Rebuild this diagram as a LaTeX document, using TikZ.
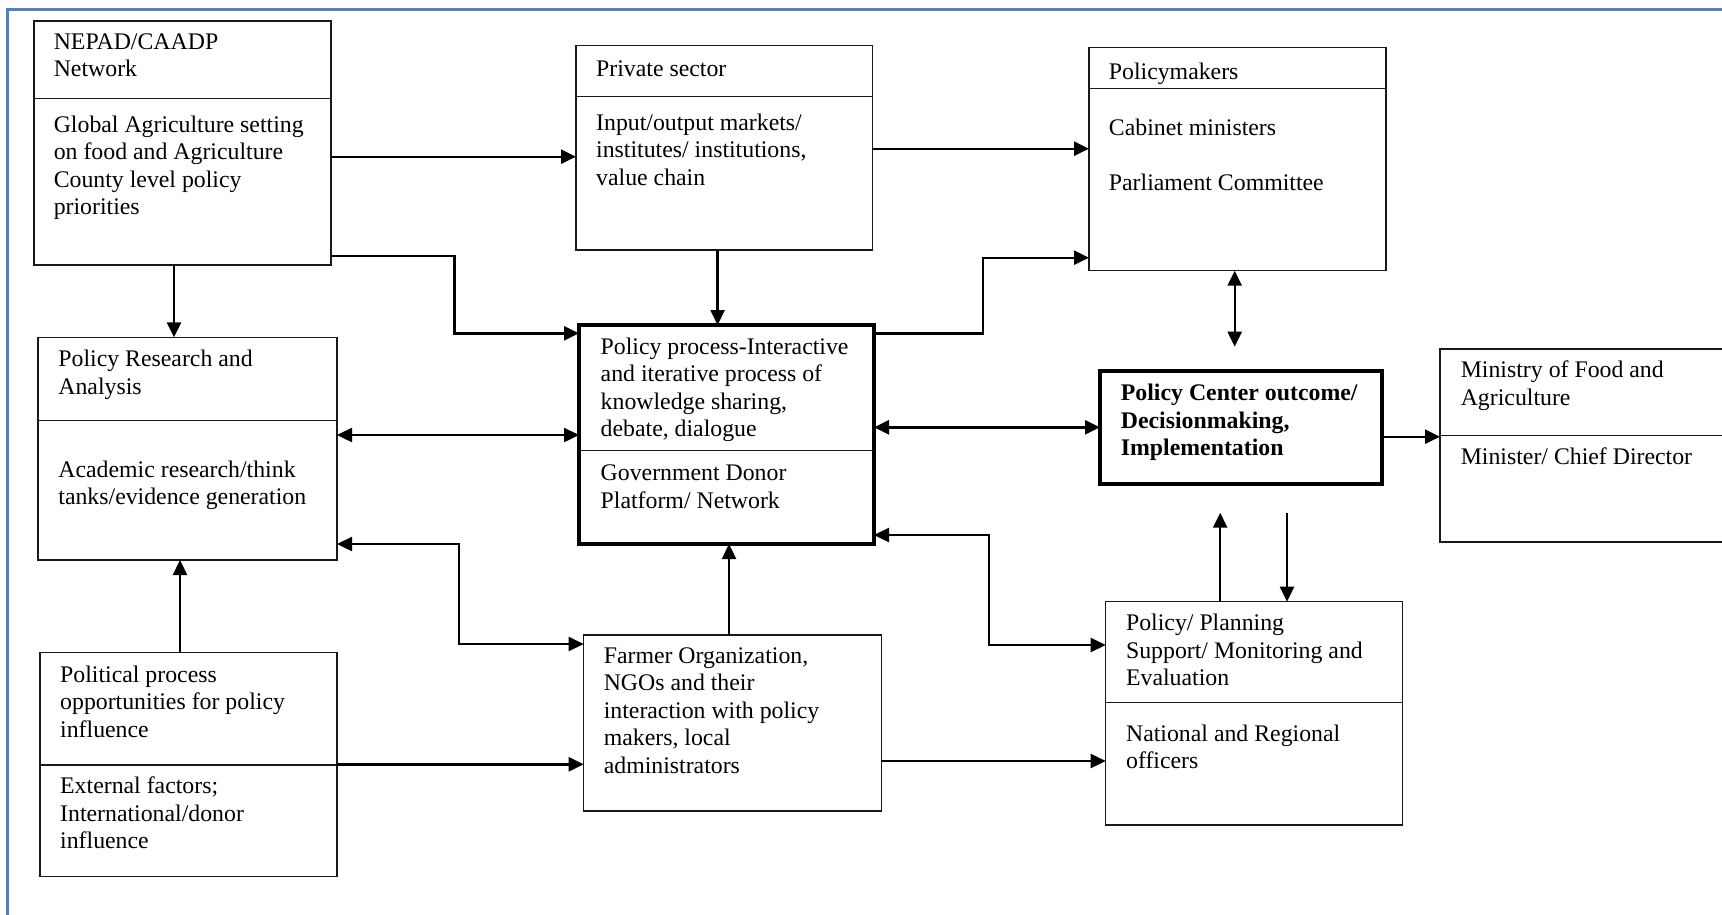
\documentclass[tikz,border=0pt]{standalone}
\usepackage{fontspec}
\setmainfont{Liberation Serif}
\usetikzlibrary{arrows.meta}
\definecolor{framecol}{RGB}{79,129,189}
\newcommand{\fsz}{\fontsize{23.8}{27.4}\selectfont}
\begin{document}
\begin{tikzpicture}[x=1pt,y=-1pt,
  box/.style={draw=black!90, line width=1.3pt, inner sep=0pt, outer sep=0pt, anchor=north west},
  thickbox/.style={draw=black, line width=4.2pt, inner sep=0pt, outer sep=0pt, anchor=north west},
  divline/.style={draw=black!90, line width=1.3pt},
  txt/.style={anchor=north west, inner sep=0pt, align=left, font=\fsz, execute at begin node=\strut},
  btxt/.style={txt, font=\fsz\bfseries},
  arr/.style={line width=2.4pt, -{Triangle[length=15pt,width=14pt]}},
  darr/.style={line width=2.4pt, {Triangle[length=15pt,width=14pt]}-{Triangle[length=15pt,width=14pt]}}
]
\useasboundingbox (0,0) rectangle (1722,914);
\clip (0,0) rectangle (1722,914);
% frame
\draw[framecol, line width=3pt] (7.5,930) -- (7.5,9.5) -- (1740,9.5);

% boxes
\node[box, minimum width=297pt, minimum height=244pt] (nepad) at (34,21) {};
\node[box, minimum width=296.6pt, minimum height=204.5pt] (priv) at (576,45.5) {};
\node[box, minimum width=297pt, minimum height=223pt] (polm) at (1089,47.7) {};
\node[box, minimum width=299pt, minimum height=222.7pt] (research) at (38,337.3) {};
\node[thickbox, minimum width=295pt, minimum height=219pt] (central) at (579,325) {};
\node[thickbox, minimum width=282pt, minimum height=113pt] (outcome) at (1100,371) {};
\node[box, minimum width=320pt, minimum height=193pt] (ministry) at (1440,349) {};
\node[box, minimum width=297pt, minimum height=224pt] (political) at (40,652.7) {};
\node[box, minimum width=297.7pt, minimum height=176pt] (farmer) at (583.7,635) {};
\node[box, minimum width=296.6pt, minimum height=223.3pt] (planning) at (1105.7,601.7) {};

% dividers
\draw[divline] (nepad.west |- 0,98.3) -- (nepad.east |- 0,98.3);
\draw[divline] (priv.west |- 0,96.3) -- (priv.east |- 0,96.3);
\draw[divline] (polm.west |- 0,88.7) -- (polm.east |- 0,88.7);
\draw[divline] (research.west |- 0,420.7) -- (research.east |- 0,420.7);
\draw[divline] (central.west |- 0,450.7) -- (central.east |- 0,450.7);
\draw[divline] (ministry.west |- 0,435.3) -- (ministry.east |- 0,435.3);
\draw[divline] (political.west |- 0,765) -- (political.east |- 0,765);
\draw[divline] (planning.west |- 0,702.7) -- (planning.east |- 0,702.7);

% texts
\node[txt] (t1a) at (53.6,33.5) {NEPAD/CAADP\\Network};
\node[txt] (t1b) at (53.6,115.8) {Global Agriculture setting\\on food and Agriculture\\County level policy\\priorities};
\node[txt] (t2a) at (596,57.5) {Private sector};
\node[txt] (t2b) at (596,113.5) {Input/output markets/\\institutes/ institutions,\\value chain};
\node[txt] (t3a) at (1108.7,60.1) {Policymakers};
\node[txt] (t3b) at (1108.7,115.8) {Cabinet ministers};
\node[txt] (t3c) at (1108.7,171.5) {Parliament Committee};
\node[txt] (t4a) at (58.2,350.1) {Policy Research and\\Analysis};
\node[txt] (t4b) at (58.2,460.8) {Academic research/think\\tanks/evidence generation};
\node[txt] (t5a) at (600.5,337.5) {Policy process-Interactive\\and iterative process of\\knowledge sharing,\\debate, dialogue};
\node[txt] (t5b) at (600.5,464.8) {Government Donor\\Platform/ Network};
\node[btxt] (t6) at (1120.7,384.1) {Policy Center outcome/\\Decisionmaking,\\Implementation};
\node[txt] (t7a) at (1460.6,360.8) {Ministry of Food and\\Agriculture};
\node[txt] (t7b) at (1460.6,444.8) {Minister/ Chief Director};
\node[txt] (t8a) at (60,665.8) {Political process\\opportunities for policy\\influence};
\node[txt] (t8b) at (60,776.8) {External factors;\\International/donor\\influence};
\node[txt] (t9) at (603.6,647.5) {Farmer Organization,\\NGOs and their\\interaction with policy\\makers, local\\administrators};
\node[txt] (t10a) at (1125.9,614.1) {Policy/ Planning\\Support/ Monitoring and\\Evaluation};
\node[txt] (t10b) at (1125.9,724.8) {National and Regional\\officers};

% helper coordinates
\coordinate (c1) at (454.5,256);
\coordinate (c2) at (983,333.3);
\coordinate (c3) at (989,535);
\coordinate (c4) at (459,544);
\coordinate (pmlow) at (1234.7,346.7);
\coordinate (oup) at (1220.2,512.7);
\coordinate (odown) at (1287,512.7);

% connectors
\draw[arr] (nepad.east |- 0,156.7) -- (priv.west |- 0,156.7);
\draw[arr] (nepad.south -| 174,0) -- (research.north -| 174,0);
\draw[arr] (nepad.east |- c1) -- (c1) |- (central.west |- 0,333.3);
\draw[arr] (priv.east |- 0,148.7) -- (polm.west |- 0,148.7);
\draw[arr] (priv.south -| 717.6,0) -- (central.north -| 717.6,0);
\draw[arr] (central.east |- c2) -- (c2) |- (polm.west |- 0,257.7);
\draw[darr] (research.east |- 0,435) -- (central.west |- 0,435);
\draw[darr] (central.east |- 0,427.3) -- (outcome.west |- 0,427.3);
\draw[darr] (polm.south -| pmlow) -- (pmlow);
\draw[arr] (outcome.east |- 0,436.7) -- (ministry.west |- 0,436.7);
\draw[arr] (planning.north -| oup) -- (oup);
\draw[arr] (odown) -- (planning.north -| odown);
\draw[darr] (central.east |- c3) -- (c3) |- (planning.west |- 0,645);
\draw[darr] (research.east |- c4) -- (c4) |- (farmer.west |- 0,644);
\draw[arr] (political.north -| 180,0) -- (research.south -| 180,0);
\draw[arr] (political.east |- 0,764.3) -- (farmer.west |- 0,764.3);
\draw[arr] (farmer.north -| 729,0) -- (central.south -| 729,0);
\draw[arr] (farmer.east |- 0,761) -- (planning.west |- 0,761);
\end{tikzpicture}
\end{document}
